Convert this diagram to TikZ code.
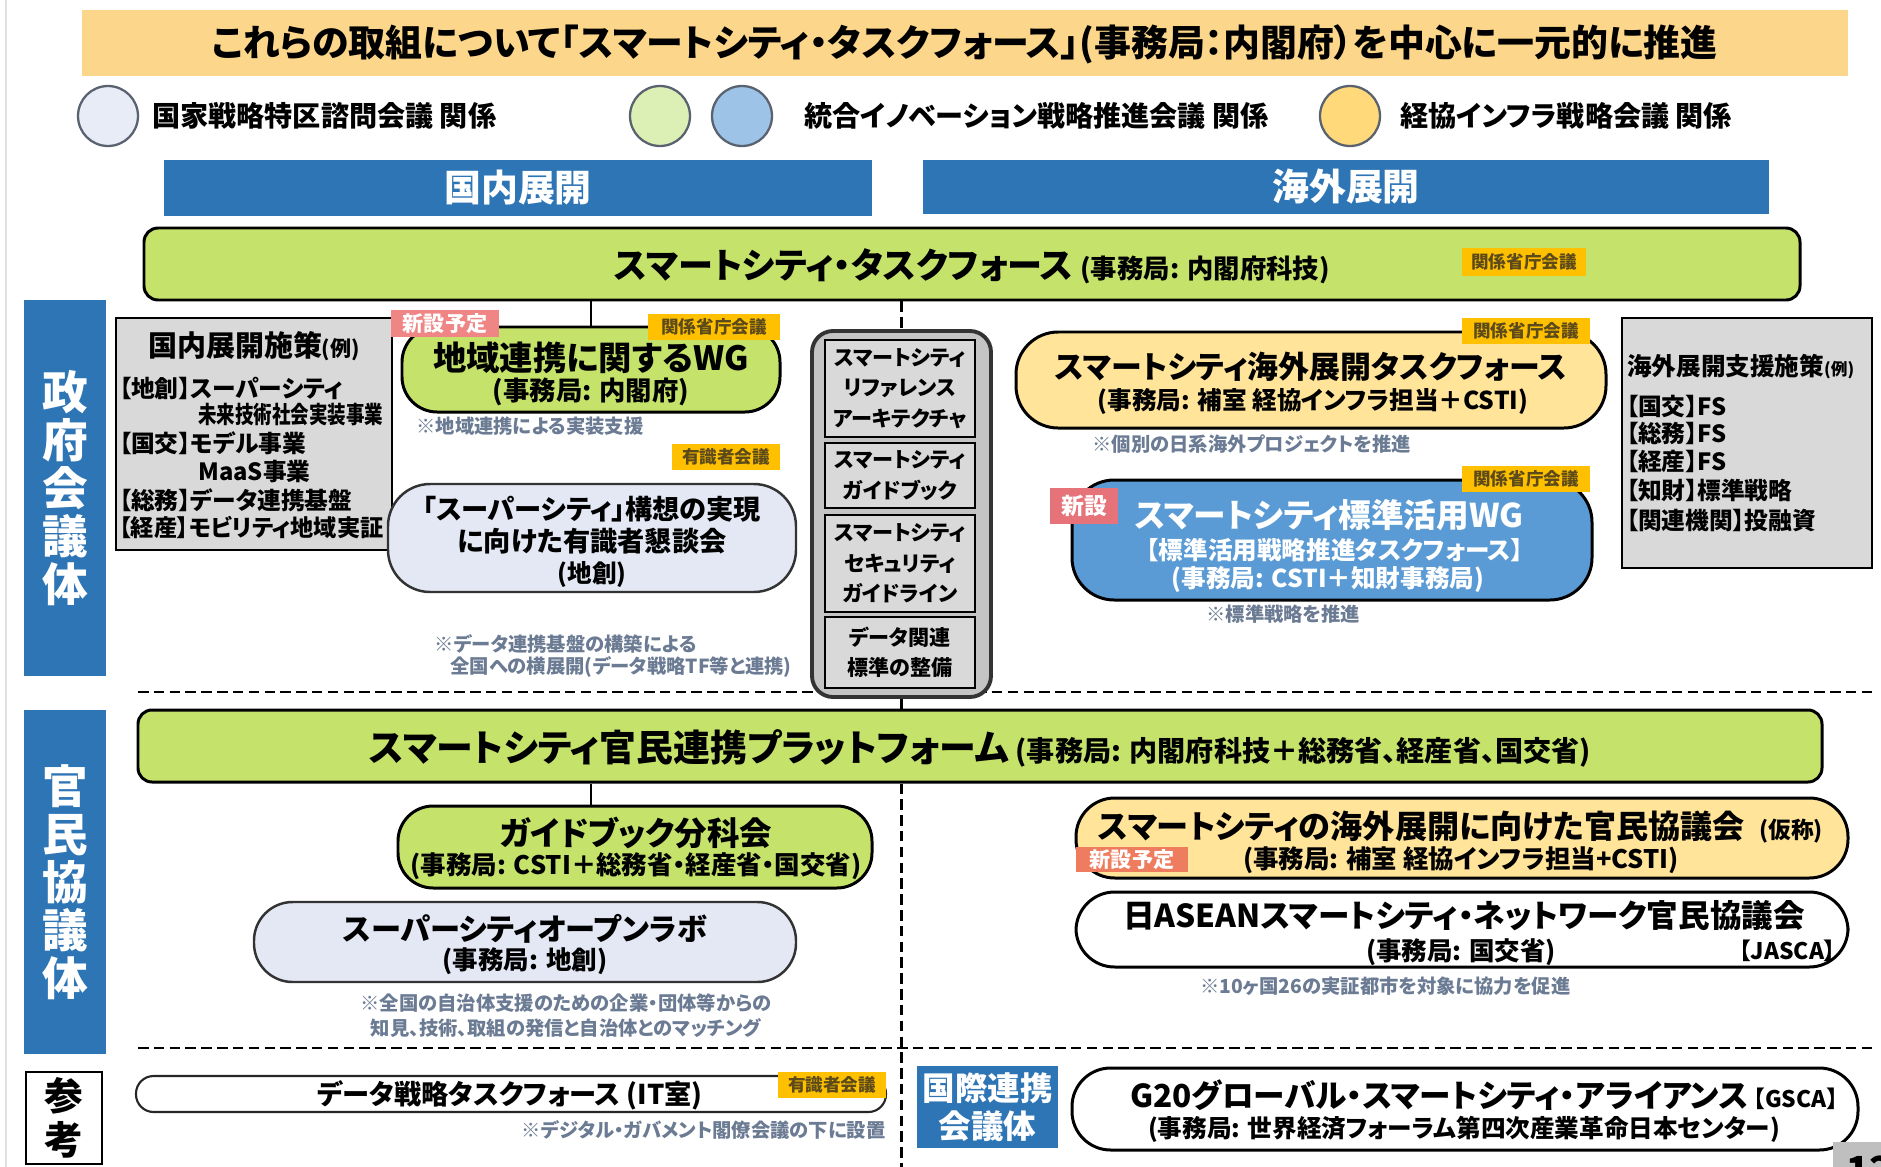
\documentclass[tikz,border=0pt]{standalone}
\usepackage{fontspec}
\setmainfont{Noto Sans CJK JP}[RawFeature=+palt]
\usetikzlibrary{fit}
\definecolor{titleor}{HTML}{FCD68A}
\definecolor{hdrblue}{HTML}{2E75B6}
\definecolor{lgreen}{HTML}{C5E36B}
\definecolor{lyellow}{HTML}{FFE49A}
\definecolor{lblue}{HTML}{5B9BD5}
\definecolor{lav}{HTML}{E3E8F4}
\definecolor{gbox}{HTML}{D9D9D9}
\definecolor{colgray}{HTML}{C4C4C4}
\definecolor{tagor}{HTML}{FFC000}
\definecolor{tagtxt}{HTML}{5C4A1A}
\definecolor{newred}{HTML}{EF8585}
\definecolor{newred2}{HTML}{E6737A}
\definecolor{neworange}{HTML}{EE7D5F}
\definecolor{notec}{HTML}{6B7B93}
\definecolor{lgcirc1}{HTML}{E8ECF6}
\definecolor{lgcirc2}{HTML}{DCEFB5}
\definecolor{lgcirc3}{HTML}{9DC3E6}
\definecolor{lgcirc4}{HTML}{FFD97A}
\definecolor{circline}{HTML}{5A6270}
\newcommand\fz[2]{\fontsize{#1}{#2}\selectfont\bfseries}
\begin{document}
\begin{tikzpicture}[x=0.02cm, y=-0.02cm, font=\bfseries,
  boxs/.style={inner sep=0pt, draw=black, line width=1.7pt},
  pillbox/.style={boxs, rounded corners=20pt},
  tagbox/.style={inner sep=0pt, fill=tagor},
  tagtext/.style={inner sep=0pt, text=tagtxt, font=\fz{10pt}{10pt}},
  newtag/.style={inner sep=0pt, fill=newred},
  newtext/.style={inner sep=0pt, text=white, font=\fz{12pt}{12pt}},
  txt/.style={inner sep=0pt, align=center},
  notetxt/.style={inner sep=0pt, text=notec, font=\fz{11pt}{14pt}},
  hdrbox/.style={inner sep=0pt, fill=hdrblue},
  wtxt/.style={inner sep=0pt, align=center, text=white},
  dline/.style={dash pattern=on 6pt off 3pt, line width=1.5pt},
  conn/.style={line width=1.7pt},
  legc/.style={circle, minimum size=1.2cm, draw=circline, line width=1.3pt},
  graybox/.style={inner sep=0pt, draw=black, line width=1.4pt, fill=gbox},
  coltext/.style={inner sep=0pt, align=center, font=\fz{12pt}{17.4pt}}
]
\useasboundingbox (0,0) rectangle (1881,1167);
\fill[white] (0,0) rectangle (1881,1167);
\coordinate (el1) at (6,0);
\coordinate (el2) at (6,1167);
\draw[black!12, line width=1pt] (el1) -- (el2);

% title
\node[fit={(82,10) (1848,76)}, inner sep=0pt, fill=titleor] (title) {};
\node[txt, font=\fz{21pt}{24pt}] (titletxt) at (965,44) {これらの取組について「スマートシティ・タスクフォース」(事務局：内閣府）を中心に一元的に推進};

% legend
\node[legc, fill=lgcirc1] (lc1) at (108,116) {};
\node[txt, anchor=west, font=\fz{16pt}{18pt}] (lt1) at (152,116) {国家戦略特区諮問会議 関係};
\node[legc, fill=lgcirc2] (lc2) at (660,116) {};
\node[legc, fill=lgcirc3] (lc3) at (742,116) {};
\node[txt, anchor=west, font=\fz{16pt}{18pt}] (lt2) at (804,116) {統合イノベーション戦略推進会議 関係};
\node[legc, fill=lgcirc4] (lc4) at (1350,116) {};
\node[txt, anchor=west, font=\fz{16pt}{18pt}] (lt3) at (1400,116) {経協インフラ戦略会議 関係};

% headers
\node[hdrbox, fit={(164,160) (872,216)}] (hdom) {};
\node[wtxt, font=\fz{21pt}{24pt}] (hdomt) at (hdom.center) {国内展開};
\node[hdrbox, fit={(923,160) (1769,214)}] (hover) {};
\node[wtxt, font=\fz{21pt}{24pt}] (hovert) at (hover.center) {海外展開};

% background dashed lines
\coordinate (h1a) at (138,692);
\coordinate (h1b) at (1872,692);
\coordinate (h2a) at (138,1048);
\coordinate (h2b) at (1872,1048);
\draw[dline] (h1a) -- (h1b);
\draw[dline] (h2a) -- (h2b);

% task force
\node[boxs, rounded corners=8pt, fill=lgreen, fit={(144,228) (1800,300)}] (tf) {};
\node[txt] (tftxt) at (972,266) {{\fz{20pt}{22pt}スマートシティ・タスクフォース}\hspace{4pt}{\fz{15pt}{18pt}(事務局: 内閣府科技)}};
\node[tagbox, fit={(1462,248) (1586,276)}] (tgtf) {};
\node[tagtext] (tgtft) at (tgtf.center) {関係省庁会議};

% side labels
\node[hdrbox, fit={(24,300) (106,676)}] (sgov) {};
\node[wtxt, font=\fz{26pt}{27.3pt}] (sgovt) at (sgov.center) {政\\府\\会\\議\\体};
\node[hdrbox, fit={(24,710) (106,1054)}] (spp) {};
\node[wtxt, font=\fz{26pt}{27.3pt}] (sppt) at (spp.center) {官\\民\\協\\議\\体};

% domestic measures gray box
\node[graybox, fit={(116,318) (392,550)}] (dmeas) {};
\node[txt, font=\fz{16.5pt}{18pt}] (dm0) at (254,346) {国内展開施策{\fz{12pt}{12pt}(例)}};
\node[txt, anchor=west, font=\fz{13.5pt}{16pt}] (dm1) at (119,388) {【地創】スーパーシティ};
\node[txt, anchor=west, font=\fz{13.5pt}{16pt}] (dm2) at (198,415) {\scalebox{0.78}[1]{未来技術社会実装事業}};
\node[txt, anchor=west, font=\fz{13.5pt}{16pt}] (dm3) at (119,443) {【国交】モデル事業};
\node[txt, anchor=west, font=\fz{13.5pt}{16pt}] (dm4) at (198,472) {MaaS事業};
\node[txt, anchor=west, font=\fz{13.5pt}{16pt}] (dm5) at (119,500) {【総務】データ連携基盤};
\node[txt, anchor=west, font=\fz{13.2pt}{16pt}] (dm6) at (119,528) {【経産】モビリティ地域実証};

% WG regional
\node[pillbox, fill=lgreen, fit={(402,327) (780,412)}] (wg) {};
\node[txt, font=\fz{19pt}{20pt}] (wgt1) at (591,358) {地域連携に関するWG};
\node[txt, font=\fz{15pt}{16pt}] (wgt2) at (591,392) {(事務局: 内閣府)};
\draw[conn] (wg.north) -- (wg.north |- tf.south);
\node[newtag, fit={(391,310) (499,337)}] (ntwg) {};
\node[newtext] (ntwgt) at (ntwg.center) {新設予定};
\node[tagbox, fit={(648,314) (780,340)}] (tgwg) {};
\node[tagtext] (tgwgt) at (tgwg.center) {関係省庁会議};
\node[notetxt, anchor=west] (nwg) at (416,426) {※地域連携による実装支援};

% super city council
\node[tagbox, fit={(672,444) (780,470)}] (tgsc) {};
\node[tagtext] (tgsct) at (tgsc.center) {有識者会議};
\node[pillbox, rounded corners=24pt, fill=lav, draw=black!80, line width=1.4pt, fit={(388,484) (796,592)}] (sc) {};
\node[txt, font=\fz{15.5pt}{20pt}] (sct1) at (592,509) {「スーパーシティ」構想の実現};
\node[txt, font=\fz{15.5pt}{20pt}] (sct2) at (592,541) {に向けた有識者懇談会};
\node[txt, font=\fz{14pt}{16pt}] (sct3) at (592,574) {(地創)};
\node[notetxt, anchor=west] (nsc1) at (434,644) {※データ連携基盤の構築による};
\node[notetxt, anchor=west] (nsc2) at (450,667) {全国への横展開(データ戦略TF等と連携)};

% middle column
\node[inner sep=0pt, draw=black!80, line width=2.2pt, fill=colgray, rounded corners=12pt, fit={(812,331) (991,697)}] (col) {};
\node[graybox, fit={(825,340) (975,437)}] (cb1) {};
\node[coltext] (cb1t) at (cb1.center) {スマートシティ\\リファレンス\\アーキテクチャ};
\node[graybox, fit={(825,443) (975,508)}] (cb2) {};
\node[coltext] (cb2t) at (cb2.center) {スマートシティ\\ガイドブック};
\node[graybox, fit={(825,515) (975,612)}] (cb3) {};
\node[coltext] (cb3t) at (cb3.center) {スマートシティ\\セキュリティ\\ガイドライン};
\node[graybox, fit={(825,617) (975,688)}] (cb4) {};
\node[coltext] (cb4t) at (cb4.center) {データ関連\\標準の整備};
\draw[dline] (col.north |- tf.south) -- (col.north);

% overseas TF
\node[pillbox, rounded corners=24pt, fill=lyellow, fit={(1016,332) (1606,428)}] (otf) {};
\node[txt, font=\fz{17.6pt}{20pt}] (otft1) at (1311,367) {スマートシティ海外展開タスクフォース};
\node[txt, font=\fz{14pt}{16pt}] (otft2) at (1313,401) {(事務局: 補室 経協インフラ担当＋CSTI)};
\node[tagbox, fit={(1462,318) (1590,344)}] (tgotf) {};
\node[tagtext] (tgotft) at (tgotf.center) {関係省庁会議};
\node[notetxt, anchor=west] (notf) at (1092,444) {※個別の日系海外プロジェクトを推進};

% standards WG
\node[pillbox, rounded corners=24pt, fill=lblue, fit={(1072,480) (1592,600)}] (swg) {};
\node[wtxt, font=\fz{18.6pt}{22pt}] (swgt1) at (1329,515) {スマートシティ標準活用WG};
\node[wtxt, font=\fz{14pt}{16pt}] (swgt2) at (1335,550) {【標準活用戦略推進タスクフォース】};
\node[wtxt, font=\fz{14pt}{16pt}] (swgt3) at (1328,579) {(事務局: CSTI＋知財事務局)};
\node[tagbox, fit={(1462,466) (1590,492)}] (tgswg) {};
\node[tagtext] (tgswgt) at (tgswg.center) {関係省庁会議};
\node[newtag, fill=newred2, fit={(1050,488) (1118,524)}] (ntswg) {};
\node[newtext, font=\fz{13pt}{14pt}] (ntswgt) at (ntswg.center) {新設};
\node[notetxt, anchor=west] (nswg) at (1206,614) {※標準戦略を推進};

% overseas measures
\node[graybox, fit={(1622,318) (1872,568)}] (omeas) {};
\node[txt, anchor=west, font=\fz{14pt}{16pt}] (om0) at (1627,367) {海外展開支援施策{\fz{9.5pt}{10pt}(例)}};
\node[txt, anchor=west, font=\fz{13.5pt}{16pt}] (om1) at (1626,406) {【国交】FS};
\node[txt, anchor=west, font=\fz{13.5pt}{16pt}] (om2) at (1626,433) {【総務】FS};
\node[txt, anchor=west, font=\fz{13.5pt}{16pt}] (om3) at (1626,461) {【経産】FS};
\node[txt, anchor=west, font=\fz{13.5pt}{16pt}] (om4) at (1626,490) {【知財】標準戦略};
\node[txt, anchor=west, font=\fz{13.5pt}{16pt}] (om5) at (1626,521) {【関連機関】投融資};

% platform
\node[boxs, rounded corners=8pt, fill=lgreen, fit={(138,710) (1822,782)}] (pf) {};
\node[txt] (pftxt) at (980,748) {{\fz{21pt}{22pt}スマートシティ官民連携プラットフォーム}\hspace{4pt}{\fz{16pt}{18pt}(事務局: 内閣府科技＋総務省、経産省、国交省)}};
\draw[conn] (col.south) -- (col.south |- pf.north);
\coordinate (vend) at (901.5,1167);
\draw[dline] (pf.south -| col.south) -- (vend);

% guidebook subcommittee
\node[pillbox, fill=lgreen, fit={(398,806) (872,888)}] (gb) {};
\node[txt, font=\fz{18.5pt}{20pt}] (gbt1) at (636,833) {ガイドブック分科会};
\node[txt, font=\fz{14.5pt}{16pt}] (gbt2) at (636,866) {(事務局: CSTI＋総務省・経産省・国交省)};
\draw[conn] (gb.north -| wg.north) -- (pf.south -| wg.north);

% open lab
\node[pillbox, rounded corners=22pt, fill=lav, draw=black!80, line width=1.4pt, fit={(254,902) (796,982)}] (ol) {};
\node[txt, font=\fz{17.2pt}{20pt}] (olt1) at (525,929) {スーパーシティオープンラボ};
\node[txt, font=\fz{14.5pt}{16pt}] (olt2) at (525,961) {(事務局: 地創)};
\node[notetxt] (nol1) at (566,1003) {※全国の自治体支援のための企業・団体等からの};
\node[notetxt] (nol2) at (566,1028) {知見、技術、取組の発信と自治体とのマッチング};

% overseas public-private council
\node[pillbox, rounded corners=22pt, fill=lyellow, fit={(1076,798) (1848,878)}] (opc) {};
\node[txt, anchor=west] (opct1) at (1098,827) {{\fz{18.3pt}{22pt}スマートシティの海外展開に向けた官民協議会}\hspace{8pt}{\fz{13pt}{14pt}(仮称)}};
\node[txt, font=\fz{14.5pt}{16pt}] (opct2) at (1461,860) {(事務局: 補室 経協インフラ担当+CSTI)};
\node[newtag, fill=neworange, fit={(1076,847) (1188,872)}] (ntopc) {};
\node[newtext] (ntopct) at (ntopc.center) {新設予定};

% JASCA
\node[pillbox, rounded corners=22pt, fill=white, fit={(1076,892) (1848,967)}] (jas) {};
\node[txt, font=\fz{18pt}{18pt}] (jast1) at (1464,916) {日ASEANスマートシティ・ネットワーク官民協議会};
\node[txt, font=\fz{14.5pt}{15pt}] (jast2) at (1461,952) {(事務局: 国交省)};
\node[txt, anchor=east, font=\fz{13pt}{14pt}] (jast3) at (1836,951) {【JASCA】};
\node[notetxt, anchor=west] (njas) at (1200,986) {※10ヶ国26の実証都市を対象に協力を促進};

% reference row
\node[inner sep=0pt, draw=black, line width=1.4pt, fill=white, fit={(26,1072) (102,1164)}] (ref) {};
\node[txt, font=\fz{22pt}{25pt}] (reft) at (ref.center) {参\\考};
\node[inner sep=0pt, draw=black!85, line width=1.2pt, fill=white, rounded corners=10pt, fit={(136,1076) (886,1112)}] (dtf) {};
\node[txt, font=\fz{15.5pt}{16pt}] (dtft) at (510,1095) {データ戦略タスクフォース (IT室)};
\node[tagbox, fit={(778,1072) (886,1098)}] (tgdtf) {};
\node[tagtext] (tgdtft) at (tgdtf.center) {有識者会議};
\node[notetxt, anchor=east] (ndtf) at (886,1130) {※デジタル・ガバメント閣僚会議の下に設置};

\node[hdrbox, fit={(917,1066) (1058,1148)}] (intl) {};
\node[wtxt, font=\fz{18.5pt}{21.6pt}] (intlt) at (intl.center) {国際連携\\会議体};
\node[pillbox, rounded corners=22pt, fill=white, fit={(1072,1068) (1858,1150)}] (gsca) {};
\node[txt, anchor=west] (gscat1) at (1130,1095) {{\fz{18pt}{20pt}G20グローバル・スマートシティ・アライアンス}\hspace{3pt}{\fz{13pt}{14pt}【GSCA】}};
\node[txt, font=\fz{14pt}{16pt}] (gscat2) at (1464,1129) {(事務局: 世界経済フォーラム第四次産業革命日本センター)};

% page number box (cut off)
\node[inner sep=0pt, fill=black!25, fit={(1833,1142) (1900,1200)}] (pg) {};
\node[anchor=north west, inner sep=0pt, font=\fz{22pt}{24pt}] (pgn) at (1846,1156) {12};
\end{tikzpicture}
\end{document}
